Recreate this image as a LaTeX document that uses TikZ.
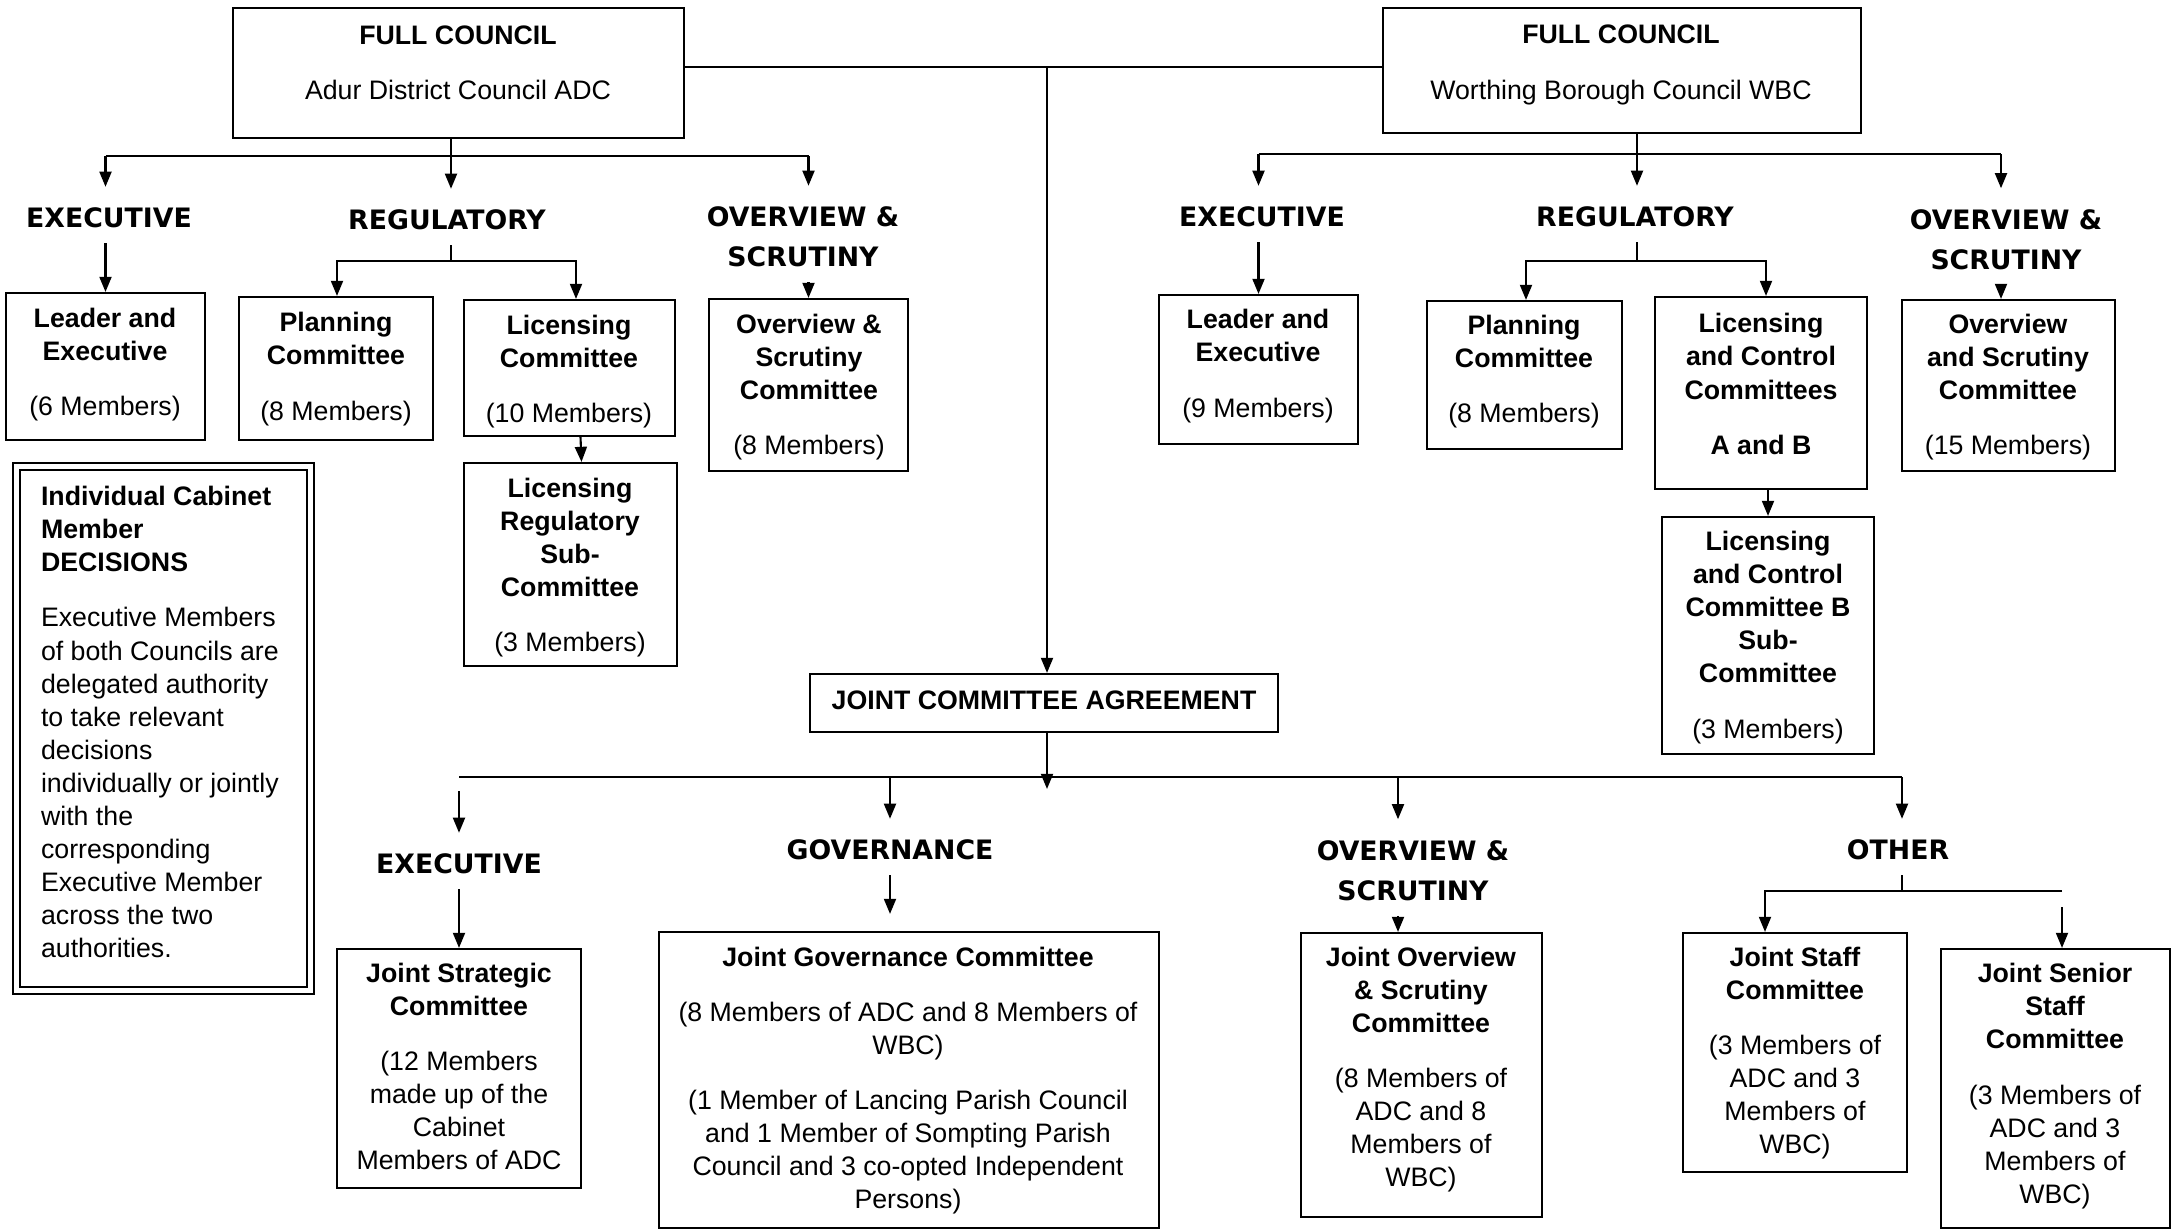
\documentclass[tikz,border=0pt]{standalone}
\usepackage{fontspec}
\setmainfont{Liberation Sans}
\newfontfamily\hdfont{DejaVu Sans}
\usetikzlibrary{arrows.meta}
\newcommand\bodysz{\fontsize{7.6pt}{9.4pt}\selectfont}
\tikzset{wh/.style 2 args={minimum width=#1*0.01cm,minimum height=#2*0.01cm}}

\begin{document}
\begin{tikzpicture}
[x=0.01cm,y=-0.01cm,line width=0.6pt,>={Triangle[length=4.3pt,width=3.4pt]},
box/.style={draw,inner sep=0pt},
dbox/.style={draw,double,double distance=1.3pt,inner sep=0pt},
txt/.style={align=center,inner sep=0pt,font=\bodysz},
head/.style={align=center,inner xsep=0pt,inner ysep=4pt,font=\hdfont\bfseries\bodysz},
into/.style={->,shorten >=1.7pt},]

\useasboundingbox (0,0) rectangle (2172,1230);

%Full councils
\node (adcfc) at (458.5,73)[box,wh={451}{130}] {};
\node (adcfc-t) at (458,62.5)[txt] {\textbf{FULL COUNCIL}\\[6.3pt]Adur District Council ADC};
\node (wbcfc) at (1622,70.5)[box,wh={478}{125}] {};
\node (wbcfc-t) at (1621,65)[txt] {\textbf{FULL COUNCIL}\\[6.3pt]Worthing Borough Council WBC};

%ADC headings
\node (adcexe) at (109,218)[head] {EXECUTIVE};
\node (adcreg) at (447,220)[head] {REGULATORY};
\node (adcovw) at (803,237)[head] {OVERVIEW \&\\[2pt]SCRUTINY};

%ADC committees
\node (adcldr) at (105.5,366.5)[box,wh={199}{147}] {};
\node (adcldr-t) at (105,364.5)[txt] {\textbf{Leader and}\\\textbf{Executive}\\[6.3pt](6 Members)};
\node (adcpln) at (336,368.5)[box,wh={194}{143}] {};
\node (adcpln-t) at (336,369)[txt] {\textbf{Planning}\\\textbf{Committee}\\[6.3pt](8 Members)};
\node (adclic) at (569.5,368)[box,wh={211}{136}] {};
\node (adclic-t) at (569,371.5)[txt] {\textbf{Licensing}\\\textbf{Committee}\\[6.3pt](10 Members)};
\node (adcsub) at (570.5,564.5)[box,wh={213}{203}] {};
\node (adcsub-t) at (570,567.5)[txt] {\textbf{Licensing}\\\textbf{Regulatory}\\\textbf{Sub-}\\\textbf{Committee}\\[6.3pt](3 Members)};
\node (adcos) at (808.5,385)[box,wh={199}{172}] {};
\node (adcos-t) at (809,387)[txt] {\textbf{Overview \&}\\\textbf{Scrutiny}\\\textbf{Committee}\\[6.3pt](8 Members)};

%Individual decisions
\node (icm) at (163.5,728.6)[dbox,wh={293.5}{524}] {};
\node (icm-t) at (40,722)[txt,anchor=west,align=left] {\textbf{Individual Cabinet}\\\textbf{Member}\\\textbf{DECISIONS}\\[6.3pt]Executive Members\\of both Councils are\\delegated authority\\to take relevant\\decisions\\individually or jointly\\with the\\corresponding\\Executive Member\\across the two\\authorities.};

%WBC headings
\node (wbcexe) at (1262,217)[head] {EXECUTIVE};
\node (wbcreg) at (1635,217)[head] {REGULATORY};
\node (wbcovw) at (2006,239.5)[head] {OVERVIEW \&\\[2pt]SCRUTINY};

%WBC committees
\node (wbcldr) at (1258.5,369.5)[box,wh={199}{149}] {};
\node (wbcldr-t) at (1258,366)[txt] {\textbf{Leader and}\\\textbf{Executive}\\[6.3pt](9 Members)};
\node (wbcpln) at (1524.5,375)[box,wh={195}{148}] {};
\node (wbcpln-t) at (1524,371.5)[txt] {\textbf{Planning}\\\textbf{Committee}\\[6.3pt](8 Members)};
\node (wbclcc) at (1761,393)[box,wh={212}{192}] {};
\node (wbclcc-t) at (1761,384)[txt] {\textbf{Licensing}\\\textbf{and Control}\\\textbf{Committees}\\[6.3pt]\textbf{A and B}};
\node (wbcos) at (2008.5,385.5)[box,wh={213}{171}] {};
\node (wbcos-t) at (2008,387)[txt] {\textbf{Overview}\\\textbf{and Scrutiny}\\\textbf{Committee}\\[6.3pt](15 Members)};
\node (wbcsub) at (1768,635.5)[box,wh={212}{237}] {};
\node (wbcsub-t) at (1768,637.5)[txt] {\textbf{Licensing}\\\textbf{and Control}\\\textbf{Committee B}\\\textbf{Sub-}\\\textbf{Committee}\\[6.3pt](3 Members)};

%Joint committee agreement
\node (jca) at (1044,703)[box,wh={468}{58}] {};
\node (jca-t) at (1044,700)[txt] {\textbf{JOINT COMMITTEE AGREEMENT}};

%Joint headings
\node (jexeh) at (459,864)[head] {EXECUTIVE};
\node (jgovh) at (890,850)[head] {GOVERNANCE};
\node (jovwh) at (1413,870.5)[head] {OVERVIEW \&\\[2pt]SCRUTINY};
\node (jothh) at (1898,850)[head] {OTHER};

%Joint committees
\node (jstr) at (459,1068.5)[box,wh={244}{239}] {};
\node (jstr-t) at (459,1066.5)[txt] {\textbf{Joint Strategic}\\\textbf{Committee}\\[6.3pt](12 Members\\made up of the\\Cabinet\\Members of ADC};
\node (jgov) at (909,1080)[box,wh={500}{296}] {};
\node (jgov-t) at (908,1080.5)[txt] {\textbf{Joint Governance Committee}\\[6.3pt](8 Members of ADC and 8 Members of\\WBC)\\[6.3pt](1 Member of Lancing Parish Council\\and 1 Member of Sompting Parish\\Council and 3 co-opted Independent\\Persons)};
\node (jovw) at (1421.5,1075)[box,wh={241}{284}] {};
\node (jovw-t) at (1421,1069.5)[txt] {\textbf{Joint Overview}\\\textbf{\& Scrutiny}\\\textbf{Committee}\\[6.3pt](8 Members of\\ADC and 8\\Members of\\WBC)};
\node (jstaff) at (1795,1052.5)[box,wh={224}{239}] {};
\node (jstaff-t) at (1795,1053)[txt] {\textbf{Joint Staff}\\\textbf{Committee}\\[6.3pt](3 Members of\\ADC and 3\\Members of\\WBC)};
\node (jsen) at (2055.5,1088.5)[box,wh={229}{279}] {};
\node (jsen-t) at (2055,1086)[txt] {\textbf{Joint Senior}\\\textbf{Staff}\\\textbf{Committee}\\[6.3pt](3 Members of\\ADC and 3\\Members of\\WBC)};

%Junction points
\coordinate (top) at (1047,67);
\coordinate (adcbus) at (451,156);
\coordinate (adcreg-l) at (337,261);
\coordinate (adcreg-r) at (576,261);
\coordinate (wbcbus) at (1637,154);
\coordinate (wbcbus-r) at (2001,154);
\coordinate (wbcreg-l) at (1526,261);
\coordinate (wbcreg-r) at (1766,261);
\coordinate (jtip) at (1047,789);
\coordinate (jbus-l) at (459,777);
\coordinate (jbus-o) at (1398,777);
\coordinate (jbus-r) at (1902,777);
\coordinate (oth-l) at (1765,891);
\coordinate (oth-r) at (2062,891);

%Councils to joint committee
\draw (adcfc.east |- top) -- (wbcfc.west |- top);
\draw[->] (top) -- (jca.north -| top);

%ADC connectors
\draw[into] (adcfc.south -| adcbus) -- (adcbus |- adcreg.north);
\draw (adcldr |- adcbus) -- (adcos |- adcbus);
\draw[into] (adcldr |- adcbus) -- (adcldr |- adcexe.north);
\draw[into] (adcos |- adcbus) -- (adcos |- adcovw.north);
\draw[->] (adcexe.south -| adcldr) -- (adcldr.north);
\draw (adcreg.south -| adcbus) -- (adcbus |- adcreg-l);
\draw[<->] (adcreg-l |- adcpln.north) -- (adcreg-l) -- (adcreg-r) -- (adcreg-r |- adclic.north);
\draw[->] (adcovw.south -| adcos) -- (adcos.north);
\draw[->] ([xshift=0.11cm]adclic.south) -- ([xshift=0.11cm]adcsub.north);

%WBC connectors
\draw[into] (wbcfc.south -| wbcbus) -- (wbcbus |- wbcreg.north);
\draw (wbcldr |- wbcbus) -- (wbcbus-r);
\draw[into] (wbcldr |- wbcbus) -- (wbcldr |- wbcexe.north);
\draw[into] (wbcbus-r) -- (wbcbus-r |- wbcovw.north);
\draw[->] (wbcexe.south -| wbcldr) -- (wbcldr.north);
\draw (wbcreg.south -| wbcbus) -- (wbcbus |- wbcreg-l);
\draw[<->] (wbcreg-l |- wbcpln.north) -- (wbcreg-l) -- (wbcreg-r) -- (wbcreg-r |- wbclcc.north);
\draw[->] (wbcovw.south -| wbcbus-r) -- (wbcbus-r |- wbcos.north);
\draw[->] (wbclcc.south -| wbcsub) -- (wbcsub.north);

%Joint connectors
\draw[->] (jca.south -| top) -- (jtip);
\draw (jbus-l) -- (jbus-r);
\draw[into] ([yshift=-0.14cm]jbus-l) -- (jbus-l |- jexeh.north);
\draw[->] (jexeh.south -| jbus-l) -- (jbus-l |- jstr.north);
\draw[into] (jbus-l -| jgovh) -- (jgovh.north);
\draw[->,shorten >=0.17cm] (jgovh.south) -- (jgovh.south |- jgov.north);
\draw[into] (jbus-o) -- (jbus-o |- jovwh.north);
\draw[->] (jovwh.south -| jbus-o) -- (jbus-o |- jovw.north);
\draw[into] (jbus-r) -- (jbus-r |- jothh.north);
\draw (jothh.south -| jbus-r) -- (jbus-r |- oth-r);
\draw[->] (oth-r) -- (oth-l) -- (oth-l |- jstaff.north);
\draw[->] ([yshift=-0.16cm]oth-r) -- (oth-r |- jsen.north);

\end{tikzpicture}
\end{document}
